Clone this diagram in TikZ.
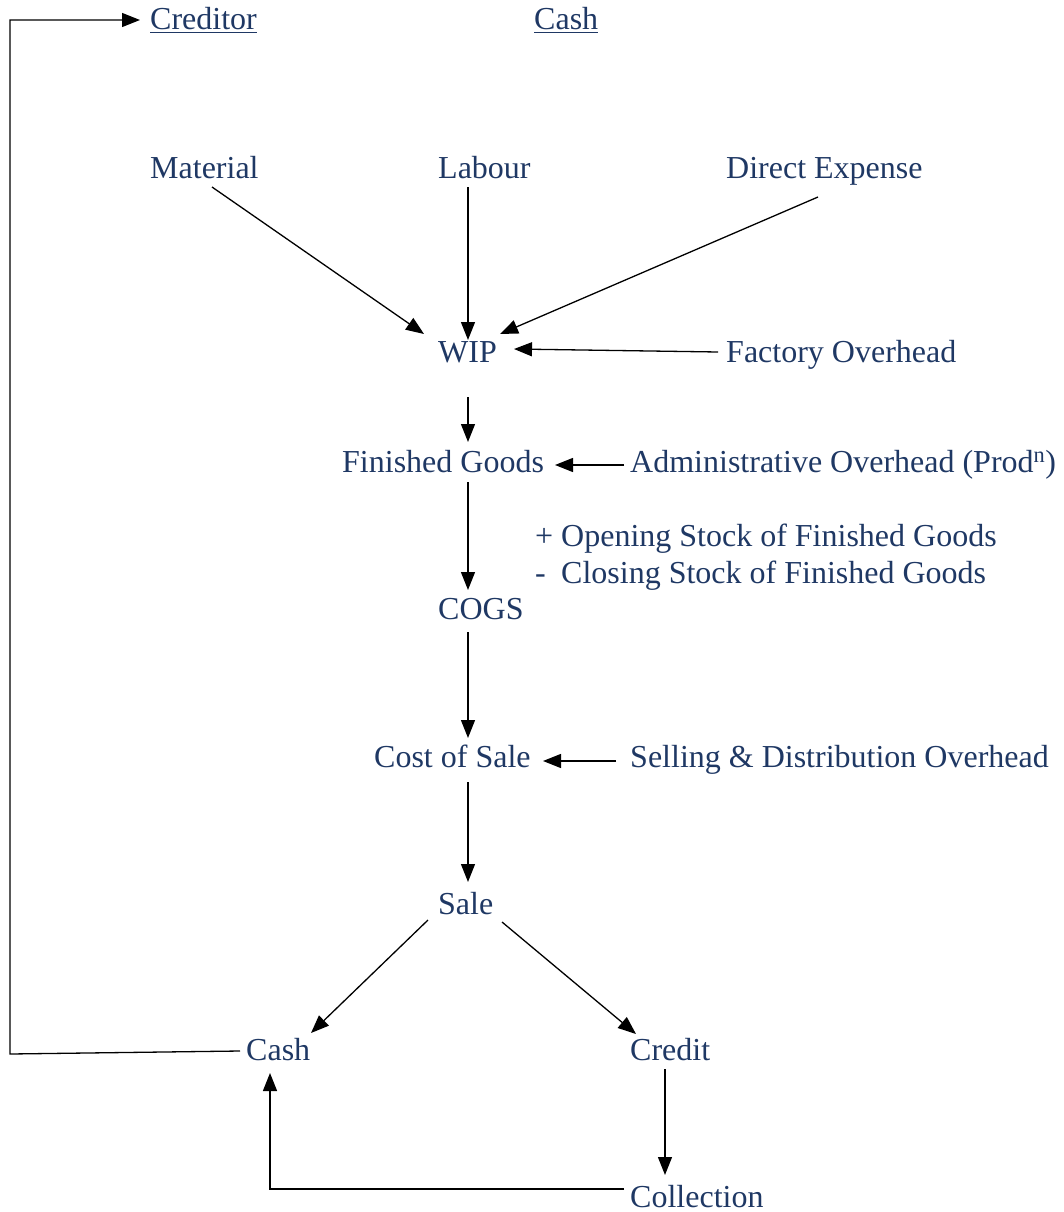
\documentclass[tikz,border=0pt]{standalone}
\usepackage{fontspec}
\setmainfont{Liberation Serif}
\usetikzlibrary{arrows.meta,calc}
\definecolor{txt}{RGB}{31,56,100}
\begin{document}
\begin{tikzpicture}[x=1pt,y=-1pt,
  lbl/.style={anchor=base west, inner sep=0pt, text=txt, font=\fontsize{32}{38}\selectfont},
  conn/.style={line width=1.3pt, draw=black},
  arr/.style={conn, -{Triangle[length=18pt,width=14pt]}}]
\useasboundingbox (0,0) rectangle (1064,1212);
% nodes
\node[lbl] (creditor) at (150,30) {\underline{Creditor}};
\node[lbl] (cashtop) at (534,30) {\underline{Cash}};
\node[lbl] (mat) at (150,178) {Material};
\node[lbl] (lab) at (438,178) {Labour};
\node[lbl] (dex) at (726,178) {Direct Expense};
\node[lbl] (wip) at (438,362) {WIP};
\node[lbl] (fov) at (726,362) {Factory Overhead};
\node[lbl] (fg) at (342,472) {Finished Goods};
\node[lbl] (aov) at (630,472) {Administrative Overhead (Prod\textsuperscript{n})};
\node[lbl] (open) at (535,546) {\makebox[26pt][l]{+}Opening Stock of Finished Goods};
\node[lbl] (close) at (535,583) {\makebox[26pt][l]{-}Closing Stock of Finished Goods};
\node[lbl] (cogs) at (438,619) {COGS};
\node[lbl] (cos) at (374,767) {Cost of Sale};
\node[lbl] (sdo) at (630,767) {Selling \& Distribution Overhead};
\node[lbl] (sale) at (438,914) {Sale};
\node[lbl] (cash) at (246,1060) {Cash};
\node[lbl] (credit) at (630,1060) {Credit};
\node[lbl] (coll) at (630,1207) {Collection};
\coordinate (c1) at (10,1054);
\coordinate (c2) at (10,20);
\coordinate (c3) at (270,1189);
% connectors
\draw[arr] ($(mat.base west)+(62,9)$) -- ($(wip.base west)+(-14,-28)$);
\draw[arr] ($(lab.base west)+(30,9)$) -- ($(wip.base west)+(30,-22)$);
\draw[arr] ($(dex.base west)+(92,19)$) -- ($(wip.base west)+(62,-28)$);
\draw[arr] ($(fov.base west)+(-8,-10)$) -- ($(wip.base west)+(76,-13)$);
\draw[arr] ($(wip.base west)+(30,35)$) -- ($(fg.base west)+(126,-30)$);
\draw[arr] ($(aov.base west)+(-6,-7)$) -- ($(fg.base west)+(213,-7)$);
\draw[arr] ($(fg.base west)+(126,10)$) -- ($(cogs.base west)+(30,-29)$);
\draw[arr] ($(cogs.base west)+(30,13)$) -- ($(cos.base west)+(94,-29)$);
\draw[arr] ($(sdo.base west)+(-14,-6)$) -- ($(cos.base west)+(169,-6)$);
\draw[arr] ($(cos.base west)+(94,15)$) -- ($(sale.base west)+(30,-32)$);
\draw[arr] ($(sale.base west)+(-10,6)$) -- ($(cash.base west)+(65,-27)$);
\draw[arr] ($(sale.base west)+(64,8)$) -- ($(credit.base west)+(6,-26)$);
\draw[arr] ($(credit.base west)+(35,9)$) -- ($(coll.base west)+(35,-32)$);
\draw[arr] ($(coll.base west)+(-6,-18)$) -- (c3) -- ($(cash.base west)+(24,13)$);
\draw[arr] ($(cash.base west)+(-6,-9)$) -- (c1) -- (c2) -- ($(creditor.base west)+(-10,-10)$);
\end{tikzpicture}
\end{document}
